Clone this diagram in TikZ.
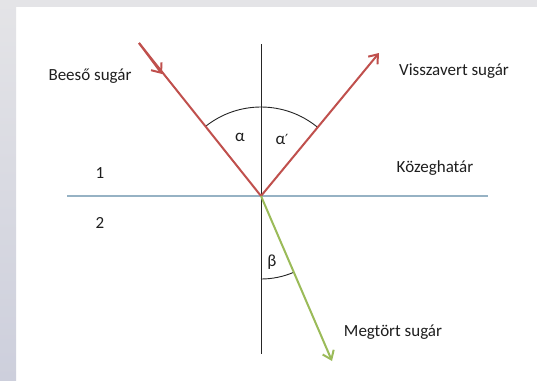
\documentclass[tikz,border=0pt]{standalone}
\usepackage{fontspec}
\setmainfont{Carlito}
\newfontfamily\primefont{DejaVu Sans}
\usetikzlibrary{arrows.meta}
\definecolor{rayred}{RGB}{192,80,77}
\definecolor{raygreen}{RGB}{155,187,89}
\definecolor{boundary}{RGB}{150,178,196}
\definecolor{bgtop}{RGB}{228,228,231}
\definecolor{bgbot}{RGB}{205,207,220}
\definecolor{txt}{RGB}{30,30,30}
\begin{document}
\begin{tikzpicture}[x=1pt,y=-1pt,
  ray/.style={line width=2pt,-{Straight Barb[length=8pt,width=12pt,line width=2pt]}},
  arcline/.style={black!85,line width=0.9pt},
  lbl/.style={font=\fontsize{17}{19}\selectfont,inner sep=0pt,text=txt},
  anglelbl/.style={font=\fontsize{17}{19}\selectfont,inner sep=0pt,text=txt}]
\useasboundingbox (0,0) rectangle (537,380);
\fill[white] (0,0) rectangle (537,380);
\fill[bgtop] (0,0) rectangle (537,7);
\shade[top color=bgtop,bottom color=bgbot] (0,0) rectangle (16,380);
% geometry
\coordinate (O) at (261,196);
\coordinate (Ntop) at (261,44);
\coordinate (Nbot) at (261,354);
\coordinate (Bl) at (67,196);
\coordinate (Br) at (488,196);
\coordinate (Inc) at (139,43);
\coordinate (IncMid) at (162,74);
\coordinate (Ref) at (379,53);
\coordinate (Refr) at (332,361);
% boundary and normal
\draw[boundary,line width=1.2pt] (Bl) -- (Br);
\draw[arcline] (Ntop) -- (Nbot);
% angle arcs
\draw[arcline] (O) ++(-128.6:89) arc[start angle=-128.6,end angle=-50.5,radius=89];
\draw[arcline] (O) ++(90:83) arc[start angle=90,end angle=66.7,radius=83];
% rays
\draw[rayred,line width=2pt] (Inc) -- (O);
\draw[rayred,line width=2pt,-{Straight Barb[length=8pt,width=13pt,line width=2pt]}] (Inc) -- (IncMid);
\draw[ray,rayred] (O) -- (Ref);
\draw[ray,raygreen] (O) -- (Refr);
% labels
\node[lbl] (beeso) at (90,76) {Beeső sugár};
\node[lbl] (vissza) at (454,71) {Visszavert sugár};
\node[lbl] (kozeg) at (435,168) {Közeghatár};
\node[lbl] (megtort) at (393,332) {Megtört sugár};
\node[lbl] (one) at (100,173) {1};
\node[lbl] (two) at (100,223) {2};
\node[anglelbl] (alpha) at (240,137) {α};
\node[anglelbl] (alphap) at (282,139) {α{\primefont\fontsize{14}{16}\selectfont ′}};
\node[anglelbl] (beta) at (272,262) {β};
\end{tikzpicture}
\end{document}
